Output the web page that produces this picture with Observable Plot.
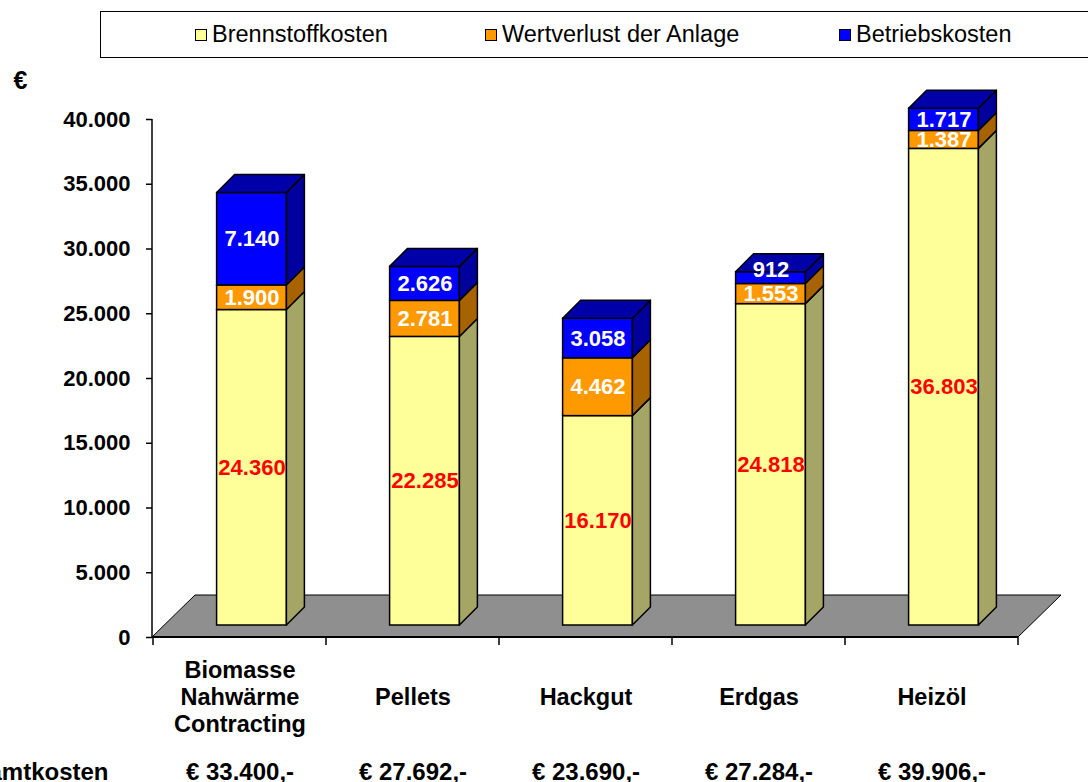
<!DOCTYPE html>
<html>
<head>
<meta charset="utf-8">
<script src="https://cdn.jsdelivr.net/npm/d3@7"></script>
<script src="https://cdn.jsdelivr.net/npm/@observablehq/plot@0.6"></script>
<style>
  body { margin: 0; background: #fff; font-family: "Liberation Sans", Arial, sans-serif; }
  #wrap { position: relative; width: 1088px; height: 782px; overflow: hidden; }
  #legend { position: absolute; left: 100px; top: 11px; width: 1010px; height: 45px; border: 1px solid #000; background: #fff; }
  .item { position: absolute; top: 0; height: 45px; display: flex; align-items: center; font-size: 23.5px; color: #000; white-space: nowrap; }
  .sw { width: 10px; height: 10px; border: 1.5px solid #000; margin-right: 5px; }
</style>
</head>
<body>
<div id="wrap"><div id="chart"></div><div id="legend"></div></div>
<script>
// ---- data ----
const categories = ["Biomasse\nNahwärme\nContracting", "Pellets", "Hackgut", "Erdgas", "Heizöl"];
const series = ["Brennstoffkosten", "Wertverlust der Anlage", "Betriebskosten"];
const brennstoffkosten = [24360, 22285, 16170, 24818, 36803];
const wertverlust = [1900, 2781, 4462, 1553, 1387];
const betriebskosten = [7140, 2626, 3058, 912, 1717];
const gesamtkosten = ["€ 33.400,-", "€ 27.692,-", "€ 23.690,-", "€ 27.284,-", "€ 39.906,-"];
const yTicks = [0, 5000, 10000, 15000, 20000, 25000, 30000, 35000, 40000];

// ---- styles ----
const frontColors = ["#FFFF99", "#FF9900", "#0000FF"];
const sideColors = ["#A5A566", "#A66300", "#00009C"];
const topColor = "#0000A8";
const labelColors = ["#FF0000", "#FFFFFF", "#FFFFFF"];
const FONT = "Liberation Sans, Arial, sans-serif";

const fmt = d3.formatLocale({decimal: ",", thousands: ".", grouping: [3], currency: ["€", ""]}).format(",d");

// build stacked table
const seriesValues = [brennstoffkosten, wertverlust, betriebskosten];
const rows = [];
categories.forEach((cat, i) => {
  let acc = 0;
  seriesValues.forEach((vals, s) => {
    rows.push({cat, s, value: vals[i], v0: acc, v1: acc + vals[i], color: frontColors[s]});
    acc += vals[i];
  });
});

// 3D geometry
const OFF = 12;      // bar placement depth into the floor
const DX = 18, DY = 18; // bar depth
const FDX = 43, FDY = 42; // floor depth
const BARW = 70;
const INSET = (866 / categories.length - BARW) / 2;
const PXPERUNIT = 518 / 40000;

function floorMark(index, scales, values, dims) {
  const x = scales.x, y = scales.y;
  const x0 = dims.marginLeft, x1 = dims.width - dims.marginRight, y0 = y(0);
  const g = d3.create("svg:g");
  g.append("path")
    .attr("d", `M${x0},${y0}L${x0 + FDX},${y0 - FDY}L${x1 + FDX},${y0 - FDY}L${x1},${y0}Z`)
    .attr("fill", "#8F8F8F").attr("stroke", "#000").attr("stroke-width", 1);
  g.append("line").attr("x1", x0).attr("x2", x0).attr("y1", y(40000)).attr("y2", y0)
    .attr("stroke", "#000").attr("stroke-width", 1.5);
  g.append("line").attr("x1", x0).attr("x2", x1).attr("y1", y0).attr("y2", y0)
    .attr("stroke", "#000").attr("stroke-width", 2);
  const bw = x.bandwidth();
  const bounds = categories.map(c => x(c)).concat([x(categories[categories.length - 1]) + bw]);
  bounds.forEach(bx => {
    g.append("line").attr("x1", bx).attr("x2", bx).attr("y1", y0).attr("y2", y0 + 8)
      .attr("stroke", "#000").attr("stroke-width", 1.5);
  });
  return g.node();
}

function depthMark(index, scales, values, dims) {
  const x = scales.x, y = scales.y, bw = x.bandwidth();
  const g = d3.create("svg:g").attr("stroke", "#000").attr("stroke-width", 1.5).attr("stroke-linejoin", "round");
  rows.forEach(r => {
    const xr = x(r.cat) + bw - INSET + OFF;
    const ya = y(r.v0) - OFF, yb = y(r.v1) - OFF;
    g.append("path")
      .attr("d", `M${xr},${ya}L${xr + DX},${ya - DY}L${xr + DX},${yb - DY}L${xr},${yb}Z`)
      .attr("fill", sideColors[r.s]);
  });
  categories.forEach(cat => {
    const top = rows.filter(r => r.cat === cat).reduce((a, b) => (b.v1 > a.v1 ? b : a));
    const xl = x(cat) + INSET + OFF, xr = x(cat) + bw - INSET + OFF;
    const yt = y(top.v1) - OFF;
    g.append("path")
      .attr("d", `M${xl},${yt}L${xl + DX},${yt - DY}L${xr + DX},${yt - DY}L${xr},${yt}Z`)
      .attr("fill", topColor);
  });
  return g.node();
}

// small top segments push their label upward (as in the original)
const labelDy = d => -OFF - (d.s === 2 ? Math.max(0, 20 - d.value * PXPERUNIT) : 0);

const chart = Plot.plot({
  width: 1088,
  height: 782,
  marginLeft: 152,
  marginRight: 70,
  marginTop: 119,
  marginBottom: 145,
  x: {domain: categories, padding: 0, axis: null},
  y: {domain: [0, 40000], axis: null},
  color: {type: "identity"},
  style: {fontFamily: FONT, fontSize: "22px", color: "#000", background: "transparent", overflow: "visible"},
  marks: [
    floorMark,
    Plot.axisY(yTicks, {tickSize: 6, tickPadding: 16, tickFormat: fmt, fontSize: 22, fontWeight: "bold", strokeWidth: 1.5, label: null}),
    Plot.barY(rows, {x: "cat", y1: "v0", y2: "v1", fill: d => d.color, stroke: "#000", strokeWidth: 1.5,
      insetLeft: INSET, insetRight: INSET, dx: OFF, dy: -OFF}),
    depthMark,
    ...[0, 1, 2].map(s => Plot.text(rows.filter(d => d.s === s), {x: "cat", y: d => (d.v0 + d.v1) / 2,
      text: d => fmt(d.value), fill: labelColors[s], dx: OFF,
      dy: s === 2 ? -OFF : -OFF, fontSize: 22, fontWeight: "bold",
      ...(s === 2 ? {y: d => (d.v0 + d.v1) / 2 + Math.max(0, 20 - d.value * PXPERUNIT) / PXPERUNIT} : {})})),
    Plot.text(categories, {x: d => d, text: d => d, frameAnchor: "bottom", dy: 58.5, fontSize: 23.5,
      fontWeight: "bold", lineHeight: 1.15, lineAnchor: "middle", fill: "#000"}),
    Plot.text(categories.map((c, i) => ({c, t: gesamtkosten[i]})), {x: "c", text: "t", frameAnchor: "bottom",
      dy: 142, fontSize: 24, fontWeight: "bold", fill: "#000"}),
    Plot.text(["Gesamtkosten"], {frameAnchor: "bottom-left", dx: -44, dy: 142, textAnchor: "end",
      fontSize: 24, fontWeight: "bold", fill: "#000"}),
    Plot.text(["€"], {frameAnchor: "top-left", dx: -139, dy: -48, textAnchor: "start",
      fontSize: 25, fontWeight: "bold", fill: "#000"})
  ]
});
document.getElementById("chart").appendChild(chart);

// legend
const legend = document.getElementById("legend");
const legendLeft = [94, 384, 738];
series.forEach((name, s) => {
  const item = document.createElement("div");
  item.className = "item";
  item.style.left = legendLeft[s] + "px";
  const sw = document.createElement("span");
  sw.className = "sw";
  sw.style.background = frontColors[s];
  const t = document.createElement("span");
  t.textContent = name;
  item.appendChild(sw);
  item.appendChild(t);
  legend.appendChild(item);
});
</script>
</body>
</html>
